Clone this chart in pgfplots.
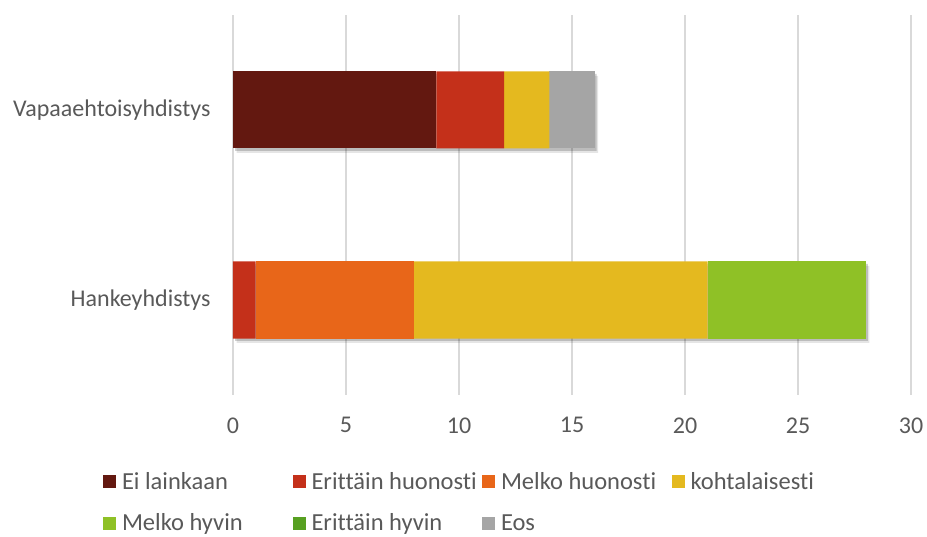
\documentclass[border=0pt]{standalone}
\usepackage{pgfplots}
\pgfplotsset{compat=1.18}
\usepackage{pgfplotstable}
\usepackage{fontspec}
\setmainfont{Carlito}[Ligatures={NoCommon}]
\definecolor{cA}{HTML}{631810}
\definecolor{cB}{HTML}{C4301A}
\definecolor{cC}{HTML}{E86619}
\definecolor{cD}{HTML}{E4B91F}
\definecolor{cE}{HTML}{8FC126}
\definecolor{cF}{HTML}{57A021}
\definecolor{cG}{HTML}{A5A5A5}
\definecolor{txt}{HTML}{595959}
\definecolor{gridc}{HTML}{D9D9D9}
\pgfplotstableread{
y ei eh mh ko my ey eos tot
0 0 1 7 13 7 0 0 28
1 9 3 0 2 0 0 2 16
}\data
\newcommand{\legtxt}[1]{\makebox[176.5pt][l]{\hspace{6pt}#1}}
\begin{document}
\begin{tikzpicture}[font=\fontsize{24}{29}\selectfont]
\useasboundingbox (0,0) rectangle (927pt,536pt);
\pgfplotsset{base/.style={at={(233pt,141pt)}, anchor=south west, scale only axis,
  width=678pt, height=380pt, xmin=0, xmax=30, ymin=-0.5, ymax=1.5,
  axis line style={draw=none}, major tick length=0pt,
  xtick={0,5,...,30}, ytick={0,1},
  bar width=77pt}}
% grid and shadow
\begin{axis}[base, xmajorgrids, grid style={gridc, line width=1.3pt},
  xticklabels={}, yticklabels={}]
\addplot[xbar, fill=black, opacity=0.10, draw=none, xshift=3.5pt, yshift=-4.5pt] table[x=tot,y=y]{\data};
\addplot[xbar, fill=black, opacity=0.18, draw=none, xshift=2pt, yshift=-2.5pt] table[x=tot,y=y]{\data};
\end{axis}
% bars
\begin{axis}[base, xbar stacked,
  yticklabels={Hankeyhdistys,Vapaaehtoisyhdistys},
  tick label style={txt},
  /pgf/number format/assume math mode=true,
  yticklabel style={xshift=-19pt},
  xticklabel style={yshift=-19pt},
  legend columns=4,
  legend style={draw=none, fill=none, at={(-0.1917,-0.198)}, anchor=north west,
    inner sep=0pt, outer sep=0pt, column sep=0pt, row sep=19pt,
    font=\fontsize{24.5}{29}\selectfont, text=txt,
    nodes={inner xsep=0pt}},
  legend cell align=left,
  legend image code/.code={\draw[#1,draw=none] (0pt,-6.5pt) rectangle (13pt,6.5pt);},
  every axis plot/.append style={draw=none}
  ]
\addplot[fill=cA] table[x=ei,y=y]{\data};
\addlegendentry{\legtxt{Ei lainkaan}}
\addplot[fill=cB] table[x=eh,y=y]{\data};
\addlegendentry{\legtxt{Erittäin huonosti}}
\addplot[fill=cC] table[x=mh,y=y]{\data};
\addlegendentry{\legtxt{Melko huonosti}}
\addplot[fill=cD] table[x=ko,y=y]{\data};
\addlegendentry{\hspace{6pt}kohtalaisesti}
\addplot[fill=cE] table[x=my,y=y]{\data};
\addlegendentry{\legtxt{Melko hyvin}}
\addplot[fill=cF] table[x=ey,y=y]{\data};
\addlegendentry{\legtxt{Erittäin hyvin}}
\addplot[fill=cG] table[x=eos,y=y]{\data};
\addlegendentry{\legtxt{Eos}}
\end{axis}
\end{tikzpicture}
\end{document}
